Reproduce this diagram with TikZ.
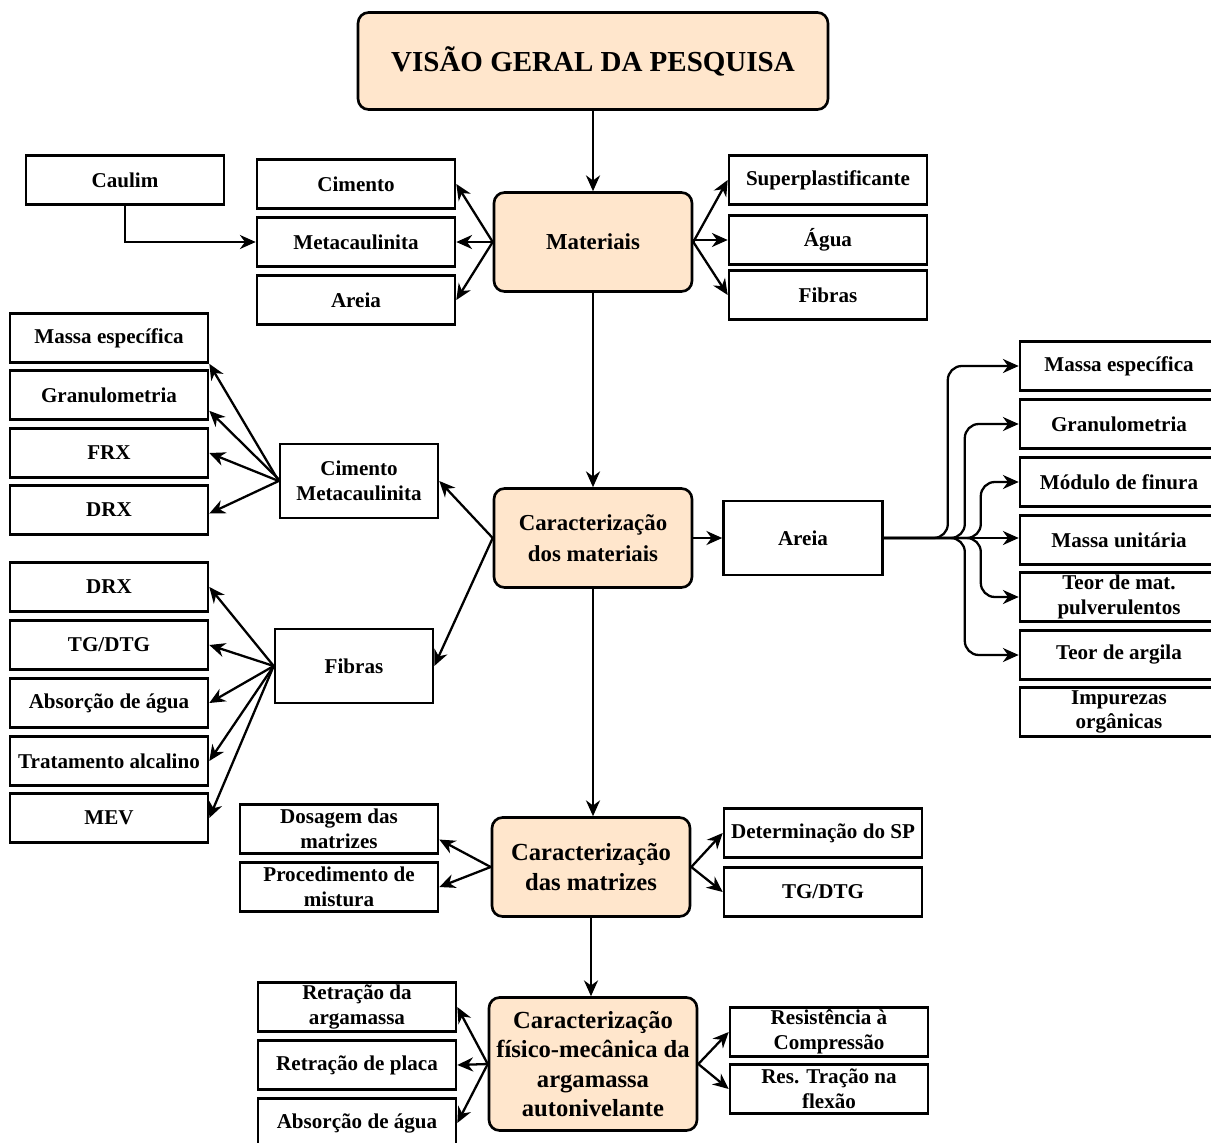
\documentclass[tikz,border=0pt]{standalone}
\usepackage{fontspec}
\setmainfont{Liberation Serif}
\usetikzlibrary{arrows.meta, positioning}
\definecolor{cpeach}{HTML}{FFE6CC}
\tikzset{
  every picture/.style={line width=1.3pt},
  box/.style={draw, line width=1.5pt, minimum width=3.96cm, minimum height=0.98cm, align=center,
    inner sep=1pt, font=\bfseries\fontsize{12}{14}\selectfont},
  wbox/.style={box, minimum width=3.16cm, minimum height=1.48cm},
  step box/.style={draw, line width=1.5pt, fill=cpeach, rounded corners=6pt, align=center,
    minimum width=3.96cm, minimum height=1.98cm, inner sep=1pt, font=\bfseries\fontsize{13}{17.5}\selectfont},
  arrow/.style={-{Stealth[length=9pt, width=8pt]}, line width=1.3pt},
}

\begin{document}
\begin{tikzpicture}[x=0.02cm, y=-0.02cm]
  \useasboundingbox (0,0) rectangle (1211,1143);
  % main flow
  \node[step box, minimum width=9.4cm, minimum height=1.94cm, font=\bfseries\fontsize{16.5}{20}\selectfont]
    (title) at (593,61) {VISÃO GERAL DA PESQUISA};
  \node[step box] (mat) at (593,242) {Materiais};
  \node[step box] (carmat) at (593,538) {Caracterização\\dos materiais};
  \node[step box, font=\bfseries\fontsize{14}{17}\selectfont] (carmz) at (591,867) {Caracterização\\das matrizes};
  \node[step box, minimum width=4.16cm, minimum height=2.66cm, font=\bfseries\fontsize{14}{16.6}\selectfont]
    (fis) at (593,1064) {Caracterização\\físico-mecânica da\\argamassa\\autonivelante};
  \draw[arrow] (title.south) -- (mat.north);
  \draw[arrow] (mat.south) -- (carmat.north);
  \draw[arrow] (carmat.south) -- (carmat.south |- carmz.north);
  \draw[arrow] (carmz.south) -- (carmz.south |- fis.north);

  % materiais
  \node[box] (caulim) at (125,180) {Caulim};
  \node[box] (cim) at (356,184) {Cimento};
  \node[box] (meta) at (356,242) {Metacaulinita};
  \node[box] (are) at (356,300) {Areia};
  \node[box] (sp) at (828,180) {Superplastificante};
  \node[box] (agua) at (828,240) {Água};
  \node[box] (fib) at (828,295) {Fibras};
  \draw[arrow] (caulim.south) |- (meta.west);
  \foreach \n in {cim, meta, are} \draw[arrow] (mat.west) -- (\n.east);
  \foreach \n in {sp, fib} \draw[arrow] (mat.east) -- (\n.west);
  \draw[arrow] (mat.east |- agua.west) -- (agua.west);

  % caracterizacao dos materiais
  \node[wbox] (cimmeta) at (359,481) {Cimento\\Metacaulinita};
  \node[wbox] (fibras) at (354,666) {Fibras};
  \node[wbox, minimum width=3.18cm] (areia) at (803,538) {Areia};
  \draw[arrow] (carmat.west) -- (cimmeta.east);
  \draw[arrow] (carmat.west) -- (fibras.east);
  \draw[arrow] (carmat.east) -- (areia.west);

  \node[box] (mesp) at (109,338) {Massa específica};
  \node[box] (gran) at (109,395) {Granulometria};
  \node[box] (frx) at (109,453) {FRX};
  \node[box] (drx) at (109,510) {DRX};
  \draw[arrow] (cimmeta.west) -- (mesp.south east);
  \draw[arrow] ([yshift=1pt]cimmeta.west) -- ([yshift=-9pt]gran.east);
  \draw[arrow] (cimmeta.west) -- (frx.east);
  \draw[arrow] (cimmeta.west) -- ([yshift=-2pt]drx.east);

  \node[box] (drx2) at (109,587) {DRX};
  \node[box] (tg) at (109,645) {TG/DTG};
  \node[box] (abs) at (109,703) {Absorção de água};
  \node[box] (trat) at (109,761) {Tratamento alcalino};
  \node[box] (mev) at (109,818) {MEV};
  \foreach \n in {drx2, tg, abs, trat, mev} \draw[arrow] (fibras.west) -- (\n.east);

  \node[box] (rmesp) at (1119,366) {Massa específica};
  \node[box] (rgran) at (1119,424) {Granulometria};
  \node[box] (rmod) at (1119,482) {Módulo de finura};
  \node[box] (runit) at (1119,540) {Massa unitária};
  \node[box] (rteor) at (1119,597) {Teor de mat.\\pulverulentos};
  \node[box] (rarg) at (1119,655) {Teor de argila};
  \node[box] (rimp) at (1119,712) {Impurezas\\orgânicas};
  \draw[arrow, rounded corners=8pt] (areia.east) -- ++(64,0) |- (rmesp.west);
  \draw[arrow, rounded corners=8pt] (areia.east) -- ++(81,0) |- (rgran.west);
  \draw[arrow, rounded corners=8pt] (areia.east) -- ++(97,0) |- (rmod.west);
  \draw[arrow] (areia.east) -- (areia.east -| runit.west);
  \draw[arrow, rounded corners=8pt] (areia.east) -- ++(97,0) |- (rteor.west);
  \draw[arrow, rounded corners=8pt] (areia.east) -- ++(81,0) |- (rarg.west);

  % caracterizacao das matrizes
  \node[box] (dos) at (339,829) {Dosagem das\\matrizes};
  \node[box] (proc) at (339,887) {Procedimento de\\mistura};
  \node[box] (dsp) at (823,833) {Determinação do SP};
  \node[box] (tg2) at (823,892) {TG/DTG};
  \draw[arrow] (carmz.west) -- ([yshift=-6pt]dos.east);
  \draw[arrow] (carmz.west) -- (proc.east);
  \draw[arrow] (carmz.east) -- (dsp.west);
  \draw[arrow] (carmz.east) -- (tg2.west);

  % caracterizacao fisico-mecanica
  \node[box] (ret) at (357,1007) {Retração da\\argamassa};
  \node[box] (placa) at (357,1065) {Retração de placa};
  \node[box] (abs2) at (357,1123) {Absorção de água};
  \node[box] (res) at (829,1032) {Resistência à\\Compressão};
  \node[box] (trac) at (829,1089) {Res. Tração na\\flexão};
  \foreach \n in {ret, placa, abs2} \draw[arrow] (fis.west) -- (\n.east);
  \foreach \n in {res, trac} \draw[arrow] (fis.east) -- (\n.west);
\end{tikzpicture}
\end{document}
